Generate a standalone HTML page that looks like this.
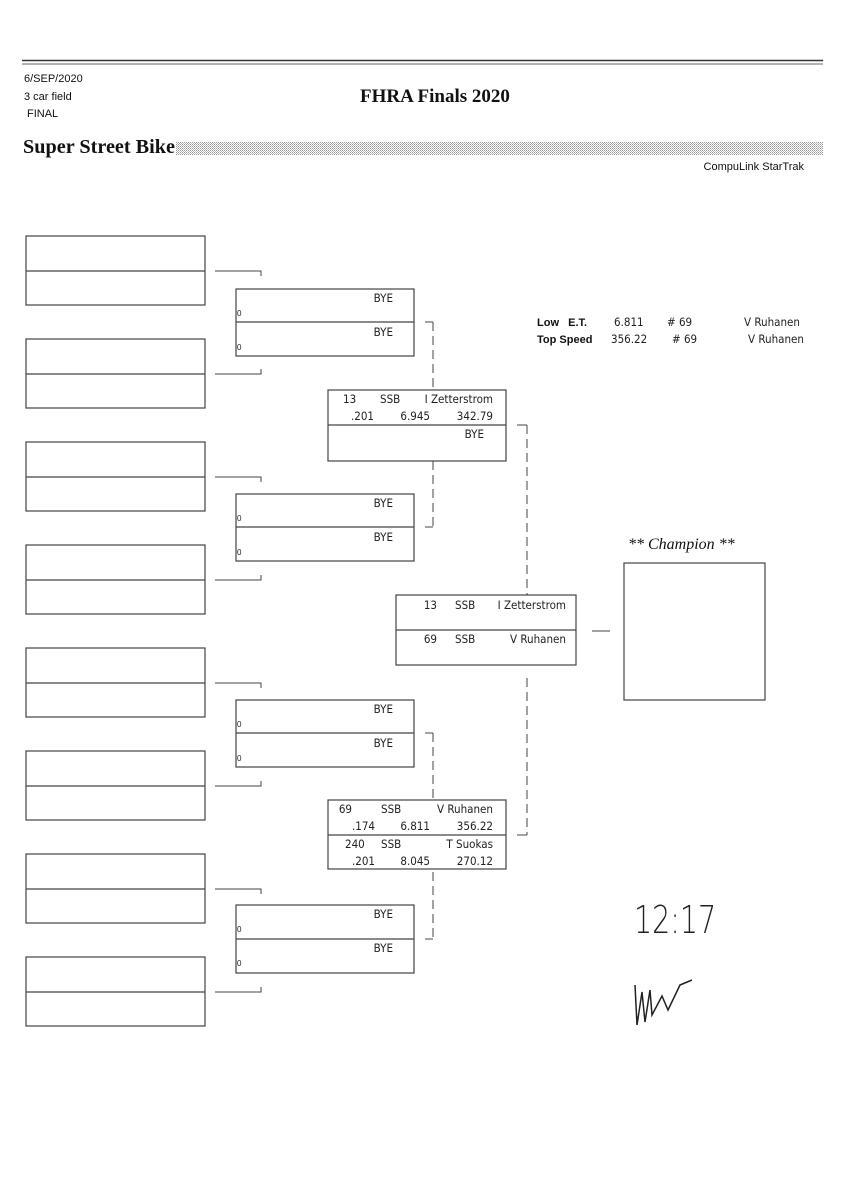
<!DOCTYPE html>
<html><head><meta charset="utf-8"><style>
html,body{margin:0;padding:0;background:#fff;width:848px;height:1200px;overflow:hidden}
svg{display:block}
.c{font-family:"DejaVu Sans Condensed","Liberation Sans",sans-serif;font-size:11.5px;fill:#222}
.s{font-family:"Liberation Sans",sans-serif;font-size:11px;fill:#111}
.z{font-family:"Liberation Sans",sans-serif;font-size:8px;fill:#222}
</style></head><body>
<svg width="848" height="1200" viewBox="0 0 848 1200">
<defs>
<pattern id="dots" width="2" height="2" patternUnits="userSpaceOnUse"><rect width="1" height="1" fill="#999"/><rect x="1" y="1" width="1" height="1" fill="#bbb"/></pattern>
</defs>
<g stroke="#333" fill="none">
<line x1="22" y1="60.5" x2="823" y2="60.5" stroke-width="1.5"/>
<line x1="22" y1="64" x2="823" y2="64" stroke-width="1" stroke="#666"/>
</g>
<rect x="176" y="142" width="647" height="13" fill="url(#dots)"/>
<text x="24" y="82" class="s">6/SEP/2020</text>
<text x="24" y="100" class="s">3 car field</text>
<text x="27" y="117" class="s">FINAL</text>
<text x="360" y="102" font-family="Liberation Serif,serif" font-weight="bold" font-size="19" fill="#111">FHRA Finals 2020</text>
<text x="23" y="153" font-family="Liberation Serif,serif" font-weight="bold" font-size="20" fill="#111" textLength="152" lengthAdjust="spacingAndGlyphs">Super Street Bike</text>
<text x="804" y="170" class="s" text-anchor="end">CompuLink StarTrak</text>

<g stroke="#444" stroke-width="1.2" fill="none">
<rect x="26" y="236" width="179" height="69"/><line x1="26" y1="271" x2="205" y2="271"/>
<rect x="26" y="339" width="179" height="69"/><line x1="26" y1="374" x2="205" y2="374"/>
<rect x="26" y="442" width="179" height="69"/><line x1="26" y1="477" x2="205" y2="477"/>
<rect x="26" y="545" width="179" height="69"/><line x1="26" y1="580" x2="205" y2="580"/>
<rect x="26" y="648" width="179" height="69"/><line x1="26" y1="683" x2="205" y2="683"/>
<rect x="26" y="751" width="179" height="69"/><line x1="26" y1="786" x2="205" y2="786"/>
<rect x="26" y="854" width="179" height="69"/><line x1="26" y1="889" x2="205" y2="889"/>
<rect x="26" y="957" width="179" height="69"/><line x1="26" y1="992" x2="205" y2="992"/>
<path d="M215 271H261V276M215 374H261V369M215 477H261V482M215 580H261V575M215 683H261V688M215 786H261V781M215 889H261V894M215 992H261V987" stroke-width="1"/>
<rect x="236" y="289" width="178" height="67"/><line x1="236" y1="322" x2="414" y2="322"/>
<rect x="236" y="494" width="178" height="67"/><line x1="236" y1="527" x2="414" y2="527"/>
<rect x="236" y="700" width="178" height="67"/><line x1="236" y1="733" x2="414" y2="733"/>
<rect x="236" y="905" width="178" height="68"/><line x1="236" y1="939" x2="414" y2="939"/>
<rect x="328" y="390" width="178" height="71"/><line x1="328" y1="425" x2="506" y2="425"/>
<rect x="328" y="800" width="178" height="69"/><line x1="328" y1="835" x2="506" y2="835"/>
<rect x="396" y="595" width="180" height="70"/><line x1="396" y1="630" x2="576" y2="630"/>
<rect x="624" y="563" width="141" height="137"/>
<line x1="592" y1="631" x2="610" y2="631" stroke-width="1"/>
</g>
<g stroke="#444" stroke-width="1" fill="none">
<path d="M425 322H433"/><path d="M433 322V390" stroke-dasharray="9,5"/>
<path d="M425 527H433"/><path d="M433 461V527" stroke-dasharray="9,5"/>
<path d="M425 733H433"/><path d="M433 733V800" stroke-dasharray="9,5"/>
<path d="M425 939H433"/><path d="M433 872V939" stroke-dasharray="9,5"/>
<path d="M517 425H527"/><path d="M527 425V595" stroke-dasharray="9,5"/>
<path d="M517 835H527"/><path d="M527 678V835" stroke-dasharray="9,5"/>
</g>
<g class="c" text-anchor="end">
<text x="393" y="302">BYE</text><text x="393" y="336">BYE</text>
<text x="393" y="507">BYE</text><text x="393" y="541">BYE</text>
<text x="393" y="713">BYE</text><text x="393" y="747">BYE</text>
<text x="393" y="918">BYE</text><text x="393" y="952">BYE</text>
</g>
<g class="z">
<text x="237" y="316">0</text><text x="237" y="350">0</text>
<text x="237" y="521">0</text><text x="237" y="555">0</text>
<text x="237" y="727">0</text><text x="237" y="761">0</text>
<text x="237" y="932">0</text><text x="237" y="966">0</text>
</g>
<g class="c">
<text x="343" y="403">13</text><text x="380" y="403">SSB</text><text x="493" y="403" text-anchor="end">I Zetterstrom</text>
<text x="374" y="420" text-anchor="end">.201</text><text x="430" y="420" text-anchor="end">6.945</text><text x="493" y="420" text-anchor="end">342.79</text>
<text x="484" y="438" text-anchor="end">BYE</text>
<text x="352" y="813" text-anchor="end">69</text><text x="381" y="813">SSB</text><text x="493" y="813" text-anchor="end">V Ruhanen</text>
<text x="375" y="830" text-anchor="end">.174</text><text x="430" y="830" text-anchor="end">6.811</text><text x="493" y="830" text-anchor="end">356.22</text>
<text x="345" y="848">240</text><text x="381" y="848">SSB</text><text x="493" y="848" text-anchor="end">T Suokas</text>
<text x="375" y="865" text-anchor="end">.201</text><text x="430" y="865" text-anchor="end">8.045</text><text x="493" y="865" text-anchor="end">270.12</text>
<text x="437" y="609" text-anchor="end">13</text><text x="455" y="609">SSB</text><text x="566" y="609" text-anchor="end">I Zetterstrom</text>
<text x="437" y="643" text-anchor="end">69</text><text x="455" y="643">SSB</text><text x="566" y="643" text-anchor="end">V Ruhanen</text>
</g>
<g class="s">
<text x="537" y="326" font-weight="bold">Low&#160;&#160;&#160;E.T.</text>
<text x="537" y="343" font-weight="bold">Top Speed</text>
</g>
<g class="c">
<text x="614" y="326">6.811</text><text x="667" y="326"># 69</text><text x="744" y="326">V Ruhanen</text>
<text x="611" y="343">356.22</text><text x="672" y="343"># 69</text><text x="748" y="343">V Ruhanen</text>
</g>
<text x="628" y="549" font-family="Liberation Serif,serif" font-style="italic" font-size="16" fill="#111">** Champion **</text>
<text x="634" y="933" font-family="DejaVu Sans,sans-serif" font-weight="200" font-size="38" fill="#222" transform="translate(634 933) scale(0.75 1) translate(-634 -933)">12:17</text>
<path d="M635 985 L637 1025 L642 992 L645 1022 L650 990 L652 1015 L662 996 L668 1010 L680 985 L692 980" stroke="#222" stroke-width="1.5" fill="none"/>
</svg>
</body></html>
